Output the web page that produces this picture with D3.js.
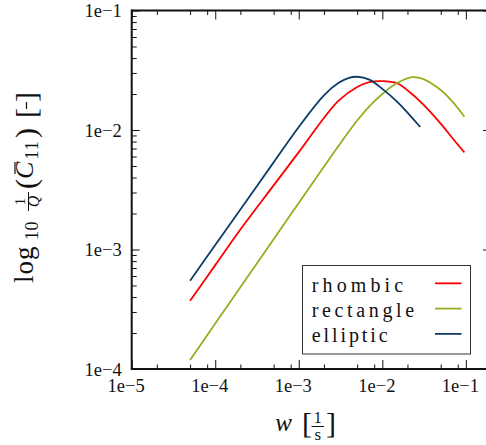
<!DOCTYPE html>
<html>
<head>
<meta charset="utf-8">
<script src="https://cdn.jsdelivr.net/npm/d3@7"></script>
<style>
  html, body { margin: 0; padding: 0; background: #fff; }
  svg { display: block; }
  text { font-family: "Liberation Serif", "Times New Roman", serif; fill: #111; }
</style>
</head>
<body>
<svg id="chart" width="486" height="445"></svg>
<script>
// ---- data ----
const seriesNames = ["rhombic", "rectangle", "elliptic"];
const seriesColors = ["#ff0000", "#8fb21e", "#0d3c66"];

const rhombicW = [5e-5, 1e-4, 2e-4, 5e-4, 1e-3, 2e-3, 3e-3, 5e-3, 7e-3, 1e-2, 1.5e-2, 2e-2, 3e-2, 5e-2, 7e-2, 9.6e-2];
const rhombicC = [3.72e-4, 7.40e-4, 1.47e-3, 3.44e-3, 6.53e-3, 1.26e-2, 1.76e-2, 2.29e-2, 2.51e-2, 2.56e-2, 2.46e-2, 2.15e-2, 1.67e-2, 1.13e-2, 8.45e-3, 6.5e-3];

const rectangleW = [5e-5, 1e-4, 2e-4, 5e-4, 1e-3, 2e-3, 3e-3, 5e-3, 7e-3, 1e-2, 1.5e-2, 2.3e-2, 3e-2, 5e-2, 7e-2, 9.6e-2];
const rectangleC = [1.19e-4, 2.40e-4, 4.83e-4, 1.22e-3, 2.45e-3, 4.92e-3, 7.38e-3, 1.2e-2, 1.58e-2, 2.0e-2, 2.47e-2, 2.77e-2, 2.69e-2, 2.16e-2, 1.71e-2, 1.29e-2];

const ellipticW = [5e-5, 1e-4, 2e-4, 5e-4, 1e-3, 2e-3, 3e-3, 4e-3, 5e-3, 7e-3, 1e-2, 1.5e-2, 2e-2, 2.85e-2];
const ellipticC = [5.48e-4, 1.09e-3, 2.16e-3, 5.36e-3, 1.06e-2, 1.95e-2, 2.48e-2, 2.73e-2, 2.79e-2, 2.64e-2, 2.21e-2, 1.73e-2, 1.40e-2, 1.06e-2];

const xMajorTicks = [1e-5, 1e-4, 1e-3, 1e-2, 1e-1];
const xTickLabels = ["1e\u22125", "1e\u22124", "1e\u22123", "1e\u22122", "1e\u22121"];
const yMajorTicks = [1e-4, 1e-3, 1e-2, 1e-1];
const yTickLabels = ["1e\u22124", "1e\u22123", "1e\u22122", "1e\u22121"];
const xMinorMantissas = [2, 5, 8];
const yMinorMantissas = [2, 3, 4, 5, 6, 7, 8, 9];

// ---- layout ----
const FONT = "'Liberation Serif', 'Times New Roman', serif";
const svg = d3.select("#chart");
const L = 131.7, R = 491, T = 10.5, B = 369;
const x = d3.scaleLog().domain([1e-5, 0.2]).range([L, R]);
const y = d3.scaleLog().domain([1e-4, 1e-1]).range([B, T]);

const xMinor = [];
[-5, -4, -3, -2, -1].forEach(e => xMinorMantissas.forEach(m => { const v = m * Math.pow(10, e); if (v < 0.2) xMinor.push(v); }));
const yMinor = [];
[-4, -3, -2].forEach(e => yMinorMantissas.forEach(m => yMinor.push(m * Math.pow(10, e))));

function styleAxis(g) {
  g.attr("font-family", FONT);
  g.select(".domain").remove();
  g.selectAll(".tick line").attr("stroke", "#111").attr("stroke-width", 1);
}

// minor ticks
svg.append("g").attr("transform", `translate(0,${B})`)
  .call(d3.axisBottom(x).tickValues(xMinor).tickSize(-4.5).tickFormat("")).call(styleAxis);
svg.append("g").attr("transform", `translate(0,${T})`)
  .call(d3.axisTop(x).tickValues(xMinor).tickSize(-4.5).tickFormat("")).call(styleAxis);
svg.append("g").attr("transform", `translate(${L},0)`)
  .call(d3.axisLeft(y).tickValues(yMinor).tickSize(-5).tickFormat("")).call(styleAxis);
svg.append("g").attr("transform", `translate(${R},0)`)
  .call(d3.axisRight(y).tickValues(yMinor).tickSize(-5).tickFormat("")).call(styleAxis);

// major ticks + labels
const gx = svg.append("g").attr("transform", `translate(0,${B})`)
  .call(d3.axisBottom(x).tickValues(xMajorTicks).tickSize(-9).tickPadding(10)
    .tickFormat((d, i) => xTickLabels[i]));
gx.call(styleAxis);
gx.selectAll(".tick text").attr("font-size", 18.5).attr("dx", -6)
  .attr("font-family", FONT).attr("fill", "#111");

svg.append("g").attr("transform", `translate(0,${T})`)
  .call(d3.axisTop(x).tickValues(xMajorTicks).tickSize(-9).tickFormat("")).call(styleAxis);

const gy = svg.append("g").attr("transform", `translate(${L},0)`)
  .call(d3.axisLeft(y).tickValues(yMajorTicks).tickSize(-8).tickPadding(10)
    .tickFormat((d, i) => yTickLabels[i]));
gy.call(styleAxis);
gy.selectAll(".tick text").attr("font-size", 18.5).attr("dy", "0.33em")
  .attr("font-family", FONT).attr("fill", "#111");

svg.append("g").attr("transform", `translate(${R},0)`)
  .call(d3.axisRight(y).tickValues(yMajorTicks).tickSize(-8).tickFormat("")).call(styleAxis);

// frame lines
svg.append("line").attr("x1", L).attr("x2", R).attr("y1", B).attr("y2", B).attr("stroke", "#111").attr("stroke-width", 2);
svg.append("line").attr("x1", L).attr("x2", R).attr("y1", T).attr("y2", T).attr("stroke", "#111").attr("stroke-width", 2);
svg.append("line").attr("x1", L).attr("x2", L).attr("y1", T - 1).attr("y2", B + 1).attr("stroke", "#111").attr("stroke-width", 2);
svg.append("line").attr("x1", R).attr("x2", R).attr("y1", T - 1).attr("y2", B + 1).attr("stroke", "#111").attr("stroke-width", 2);

// series
const series = [
  { name: seriesNames[0], color: seriesColors[0], pts: rhombicW.map((w, i) => [w, rhombicC[i]]) },
  { name: seriesNames[1], color: seriesColors[1], pts: rectangleW.map((w, i) => [w, rectangleC[i]]) },
  { name: seriesNames[2], color: seriesColors[2], pts: ellipticW.map((w, i) => [w, ellipticC[i]]) }
];
const line = d3.line().x(d => x(d[0])).y(d => y(d[1])).curve(d3.curveCatmullRom.alpha(0.5));
svg.append("g").selectAll("path").data(series).join("path")
  .attr("d", d => line(d.pts)).attr("fill", "none")
  .attr("stroke", d => d.color).attr("stroke-width", 1.8);

// legend
const legendWidths = [91.5, 102.5, 76];
const lg = svg.append("g");
lg.append("rect").attr("x", 302.5).attr("y", 265.5).attr("width", 168).attr("height", 88.5)
  .attr("fill", "#fff").attr("stroke", "#333").attr("stroke-width", 1);
series.forEach((s, i) => {
  const by = 291.7 + i * 25.3;
  lg.append("text").attr("x", 311.7).attr("y", by).attr("font-size", 20).attr("font-family", FONT)
    .attr("textLength", legendWidths[i]).attr("lengthAdjust", "spacing").text(s.name);
  lg.append("line").attr("x1", 435).attr("x2", 461.5).attr("y1", by - 8.4).attr("y2", by - 8.4)
    .attr("stroke", s.color).attr("stroke-width", 1.8);
});

// x axis title: w [1/s]
const xt = svg.append("g").attr("font-family", FONT);
xt.append("text").attr("x", 283.5).attr("y", 430.5).attr("font-size", 25).attr("font-style", "italic")
  .attr("text-anchor", "middle").text("w");
xt.append("text").attr("x", 302).attr("y", 433).attr("font-size", 30).text("[");
xt.append("text").attr("x", 317.7).attr("y", 423).attr("font-size", 16).attr("text-anchor", "middle").text("1");
xt.append("line").attr("x1", 311.5).attr("x2", 324).attr("y1", 426.5).attr("y2", 426.5).attr("stroke", "#111").attr("stroke-width", 1);
xt.append("text").attr("x", 317.7).attr("y", 439.5).attr("font-size", 17).attr("text-anchor", "middle").text("s");
xt.append("text").attr("x", 326).attr("y", 433).attr("font-size", 30).text("]");

// y axis title: log10 (1/Q) (C̄11) [−]
const yt = svg.append("g").attr("transform", "translate(33,283) rotate(-90)").attr("font-family", FONT);
yt.append("text").attr("x", 0).attr("y", 0).attr("font-size", 27).attr("letter-spacing", 1).text("log");
yt.append("text").attr("x", 43).attr("y", 5).attr("font-size", 18).attr("letter-spacing", 0.5).text("10");
yt.append("text").attr("x", 81.5).attr("y", -8).attr("font-size", 15).attr("text-anchor", "middle").text("1");
yt.append("line").attr("x1", 72).attr("x2", 91).attr("y1", -4.5).attr("y2", -4.5).attr("stroke", "#111").attr("stroke-width", 1);
yt.append("text").attr("x", 81.5).attr("y", 6).attr("font-size", 16).attr("font-style", "italic").attr("text-anchor", "middle").text("Q");
yt.append("text").attr("x", 94).attr("y", 3).attr("font-size", 30).text("(");
yt.append("text").attr("x", 104).attr("y", 0).attr("font-size", 26).attr("font-style", "italic").text("C");
yt.append("line").attr("x1", 109).attr("x2", 121).attr("y1", -18).attr("y2", -18).attr("stroke", "#111").attr("stroke-width", 1.2);
yt.append("text").attr("x", 123.5).attr("y", 5).attr("font-size", 18).attr("letter-spacing", 1).text("11");
yt.append("text").attr("x", 145).attr("y", 3).attr("font-size", 30).text(")");
yt.append("text").attr("x", 165).attr("y", 3).attr("font-size", 30).text("[");
yt.append("line").attr("x1", 174).attr("x2", 181).attr("y1", -6.5).attr("y2", -6.5).attr("stroke", "#111").attr("stroke-width", 1.2);
yt.append("text").attr("x", 181).attr("y", 3).attr("font-size", 30).text("]");
</script>
</body>
</html>
